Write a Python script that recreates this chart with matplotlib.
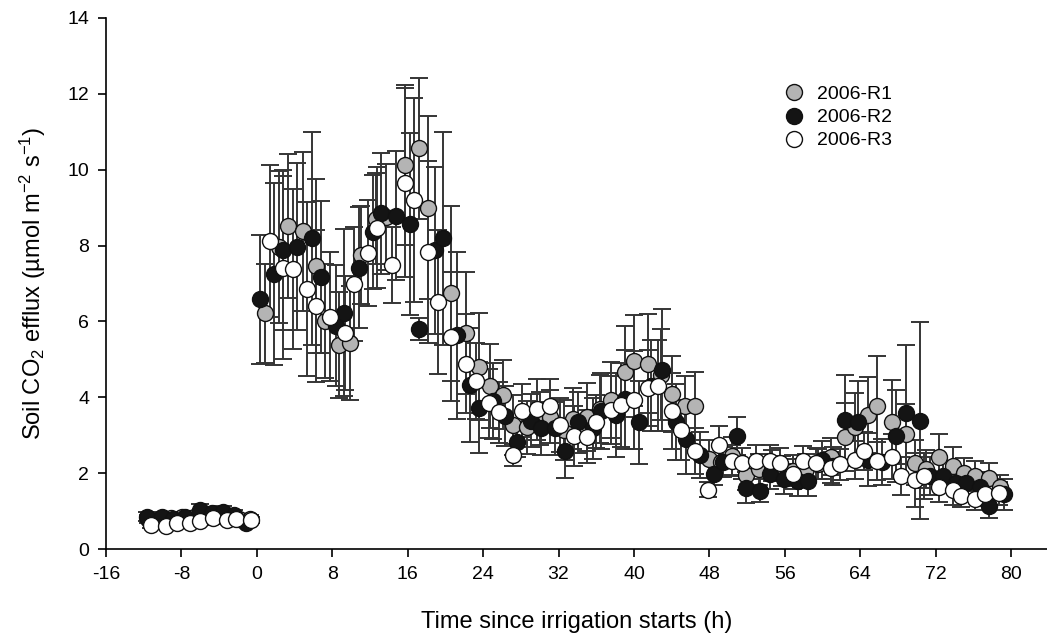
import matplotlib
matplotlib.use("Agg")
import matplotlib.pyplot as plt
import numpy as np

plt.rcParams['font.family'] = ['Liberation Sans', 'DejaVu Sans']
plt.rcParams['mathtext.default'] = 'regular'
plt.rcParams['axes.unicode_minus'] = False

# 2006-R1 (grey)
t_r1 = [-11.5, -10.3, -9.1, -7.9, -6.7, -5.5, -4.3, -3.1, -1.9, -0.7,
        0.85, 2.3, 3.3, 4.85, 6.3, 7.2, 8.7, 9.9, 11.1, 12.6, 13.75, 15.7, 17.2, 18.2,
        20.6, 22.2, 23.6, 24.7, 26.1, 27.2, 28.7, 30.0, 31.1, 32.6, 33.5, 35.0, 36.4,
        37.6, 39.0, 40.0, 41.5, 42.9, 44.0, 45.4, 46.5, 48.0, 49.2, 50.4, 51.9, 53.3,
        54.6, 55.7, 56.9, 58.2, 59.5, 60.9, 62.35, 63.4, 64.8, 65.8, 67.4, 68.8, 69.8,
        71.0, 72.3, 73.8, 75.0, 76.2, 77.7, 78.8]
y_r1 = [0.80, 0.78, 0.82, 0.85, 0.85, 0.92, 0.90, 0.82, 0.80, 0.80,
        6.21, 7.97, 8.52, 8.37, 7.46, 6.01, 5.37, 5.44, 7.75, 8.70, 8.76, 10.12, 10.56, 9.00,
        6.74, 5.70, 4.81, 4.30, 4.07, 3.27, 3.21, 3.45, 3.49, 3.14, 3.44, 3.49, 3.70,
        3.93, 4.67, 4.96, 4.89, 4.60, 4.09, 3.77, 3.78, 2.37, 2.30, 2.45, 1.95, 2.10,
        2.20, 2.05, 2.07, 2.10, 2.25, 2.44, 2.96, 3.22, 3.53, 3.78, 3.36, 3.03, 2.28,
        2.10, 2.44, 2.20, 2.00, 1.92, 1.88, 1.64]
e_r1 = [0.10, 0.10, 0.12, 0.10, 0.10, 0.12, 0.12, 0.10, 0.10, 0.10,
        1.30, 2.00, 1.90, 2.10, 2.30, 1.50, 1.40, 1.50, 1.30, 1.20, 1.40, 2.10, 1.85, 2.40,
        2.30, 1.60, 1.40, 1.10, 0.90, 0.80, 0.70, 0.70, 0.70, 0.80, 0.80, 0.90, 0.90,
        1.00, 1.20, 1.20, 1.30, 1.20, 1.00, 0.80, 0.90, 0.50, 0.40, 0.50, 0.40, 0.40,
        0.40, 0.40, 0.40, 0.40, 0.40, 0.50, 0.90, 0.90, 1.00, 1.30, 1.10, 0.80, 0.60,
        0.50, 0.60, 0.50, 0.40, 0.40, 0.40, 0.30]

# 2006-R2 (black)
t_r2 = [-11.7, -10.1, -8.9, -7.6, -6.0, -4.8, -3.6, -2.4, -1.1,
        0.3, 1.8, 2.8, 4.3, 5.8, 6.85, 8.4, 9.25, 10.8, 12.3, 13.2, 14.75, 16.2, 17.2,
        18.9, 19.7, 21.2, 22.6, 23.6, 25.0, 26.3, 27.6, 29.1, 30.1, 31.6, 32.7, 34.1,
        35.6, 36.55, 38.1, 39.0, 40.5, 41.8, 43.0, 44.5, 45.5, 46.95, 48.5, 49.4, 50.9,
        51.85, 53.4, 54.4, 55.9, 57.4, 58.5, 59.9, 61.1, 62.35, 63.8, 64.8, 66.3, 67.75,
        68.8, 70.3, 71.4, 72.8, 74.2, 75.2, 76.7, 77.7, 79.2]
y_r2 = [0.85, 0.85, 0.80, 0.85, 1.03, 0.95, 0.98, 0.90, 0.68,
        6.59, 7.24, 7.88, 7.97, 8.19, 7.16, 5.89, 6.23, 7.42, 8.35, 8.85, 8.78, 8.57, 5.80,
        7.88, 8.19, 5.64, 4.32, 3.73, 3.90, 3.51, 2.83, 3.38, 3.18, 3.18, 2.58, 3.34,
        3.18, 3.64, 3.53, 3.95, 3.34, 4.30, 4.72, 3.36, 2.89, 2.48, 1.98, 2.29, 2.98,
        1.62, 1.54, 1.98, 1.85, 1.80, 1.80, 2.35, 2.20, 3.40, 3.34, 2.35, 2.30, 2.98,
        3.58, 3.38, 1.93, 1.93, 1.75, 1.75, 1.64, 1.13, 1.44]
e_r2 = [0.12, 0.12, 0.10, 0.12, 0.15, 0.12, 0.15, 0.12, 0.10,
        1.70, 2.40, 2.10, 2.20, 2.80, 2.00, 1.60, 2.20, 1.60, 1.50, 1.60, 1.70, 2.40, 0.30,
        2.20, 2.80, 2.20, 1.50, 1.20, 1.00, 0.80, 0.40, 0.70, 0.70, 0.70, 0.70, 0.80,
        0.80, 1.00, 1.10, 1.30, 1.10, 1.20, 1.60, 1.00, 0.90, 0.60, 0.30, 0.40, 0.50,
        0.40, 0.30, 0.40, 0.40, 0.40, 0.40, 0.50, 0.50, 1.20, 1.10, 0.70, 0.60, 1.20,
        1.80, 2.60, 0.50, 0.40, 0.30, 0.30, 0.40, 0.30, 0.40]

# 2006-R3 (white)
t_r3 = [-11.2, -9.6, -8.5, -7.1, -6.0, -4.7, -3.2, -2.2, -0.6,
        1.4, 2.8, 3.85, 5.35, 6.3, 7.8, 9.3, 10.3, 11.8, 12.75, 14.3, 15.7, 16.7, 18.2,
        19.2, 20.6, 22.2, 23.2, 24.6, 25.7, 27.2, 28.1, 29.7, 31.1, 32.1, 33.6, 35.0,
        36.0, 37.6, 38.6, 40.0, 41.5, 42.5, 44.0, 45.0, 46.5, 47.9, 49.0, 50.4, 51.5,
        52.9, 54.4, 55.5, 56.9, 57.9, 59.3, 60.9, 61.9, 63.4, 64.4, 65.8, 67.4, 68.3,
        69.8, 70.8, 72.3, 73.8, 74.7, 76.2, 77.2, 78.7]
y_r3 = [0.63, 0.61, 0.68, 0.68, 0.74, 0.81, 0.76, 0.78, 0.76,
        8.12, 7.42, 7.38, 6.85, 6.41, 6.12, 5.70, 6.99, 7.80, 8.47, 7.49, 9.66, 9.20, 7.82,
        6.52, 5.60, 4.89, 4.43, 3.84, 3.60, 2.48, 3.65, 3.68, 3.78, 3.27, 2.98, 2.96,
        3.36, 3.66, 3.80, 3.93, 4.24, 4.30, 3.65, 3.14, 2.58, 1.57, 2.74, 2.33, 2.26,
        2.33, 2.33, 2.26, 1.98, 2.31, 2.26, 2.15, 2.23, 2.35, 2.58, 2.32, 2.44, 1.93,
        1.82, 1.93, 1.63, 1.56, 1.41, 1.32, 1.44, 1.47]
e_r3 = [0.08, 0.08, 0.10, 0.08, 0.10, 0.10, 0.10, 0.08, 0.08,
        2.00, 2.40, 2.10, 2.30, 2.00, 1.70, 1.50, 1.50, 1.40, 1.60, 1.00, 2.50, 2.70, 2.40,
        1.90, 1.70, 1.30, 1.00, 0.90, 0.80, 0.30, 0.70, 0.80, 0.70, 0.70, 0.80, 0.70,
        0.70, 0.90, 1.10, 1.30, 1.00, 1.20, 1.00, 0.80, 0.60, 0.20, 0.50, 0.40, 0.40,
        0.40, 0.40, 0.40, 0.40, 0.40, 0.40, 0.40, 0.40, 0.50, 0.50, 0.50, 0.60, 0.50,
        0.70, 0.60, 0.40, 0.40, 0.30, 0.30, 0.30, 0.30]

labels = ['2006-R1', '2006-R2', '2006-R3']
faces = ['#b4b4b4', '#141414', 'white']
series = [(t_r1, y_r1, e_r1), (t_r2, y_r2, e_r2), (t_r3, y_r3, e_r3)]

fig = plt.figure(figsize=(10.47, 6.37), dpi=100)
ax = fig.add_axes([0.1012, 0.138, 0.8988, 0.834])

# error bars behind all the circles
for t, y, e in series:
    ax.errorbar(t, y, yerr=e, fmt='none', ecolor='#353535', elinewidth=1.4,
                capsize=6.5, capthick=1.4, zorder=1)
for (t, y, e), lab, fc in zip(series, labels, faces):
    ax.plot(t, y, 'o', ms=11.5, mfc=fc, mec='#111111', mew=1.0, label=lab, zorder=2)

ax.set_xlim(-16, 83.8)
ax.set_ylim(0, 14)
ax.set_xticks(np.arange(-16, 81, 8))
ax.set_yticks(np.arange(0, 15, 2))
ax.spines['top'].set_visible(False)
ax.spines['right'].set_visible(False)
for s in ['left', 'bottom']:
    ax.spines[s].set_linewidth(1.2)
ax.tick_params(direction='out', length=6, width=1.2, labelsize=14, pad=6)

ax.set_xlabel('Time since irrigation starts (h)', fontsize=17, labelpad=20)
ax.set_ylabel('Soil CO$_2$ efflux (\u00b5mol m$^{-2}$ s$^{-1}$)', fontsize=17, labelpad=14)

ax.legend(loc='upper left', bbox_to_anchor=(0.702, 0.887), frameon=False, fontsize=14,
          handletextpad=0.2, labelspacing=0.28, borderaxespad=0)

fig.savefig('out.png', dpi=100)
